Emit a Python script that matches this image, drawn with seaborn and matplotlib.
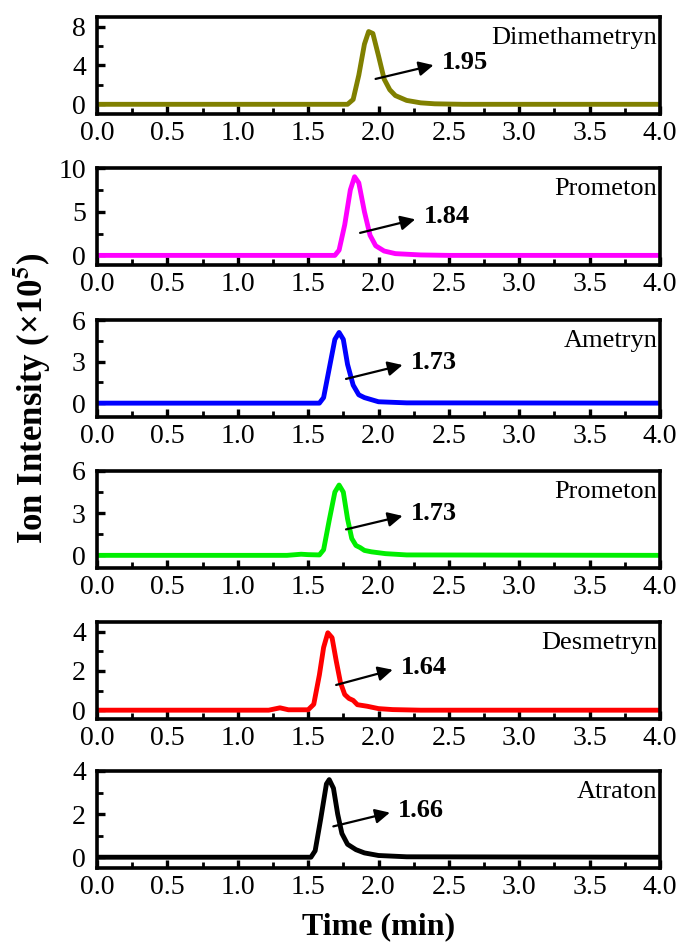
import numpy as np
import pandas as pd
import matplotlib
matplotlib.use("Agg")
import matplotlib.pyplot as plt
import seaborn as sns

# compound names, colours and retention times (top to bottom)
names = ["Dimethametryn", "Prometon", "Ametryn", "Prometon", "Desmetryn", "Atraton"]
colors = ["#808000", "#ff00ff", "#0000ff", "#00ee00", "#ff0000", "#000000"]
rt_labels = ["1.95", "1.84", "1.73", "1.73", "1.64", "1.66"]

# chromatogram points (time in min, intensity x1e5)
t1 = [0.0, 1.0, 1.78, 1.82, 1.86, 1.90, 1.93, 1.96, 2.00, 2.04, 2.08, 2.12, 2.20, 2.30, 2.40, 2.60, 4.0]
y1 = [0.0, 0.0, 0.0, 0.5, 3.0, 6.2, 7.5, 7.3, 5.0, 2.6, 1.5, 0.9, 0.4, 0.15, 0.05, 0.0, 0.0]

t2 = [0.0, 1.0, 1.69, 1.72, 1.76, 1.80, 1.83, 1.86, 1.90, 1.94, 1.98, 2.04, 2.12, 2.30, 2.50, 4.0]
y2 = [0.0, 0.0, 0.0, 0.6, 3.5, 7.5, 9.0, 8.3, 5.0, 2.3, 1.1, 0.5, 0.2, 0.05, 0.0, 0.0]

t3 = [0.0, 1.0, 1.58, 1.61, 1.65, 1.69, 1.72, 1.75, 1.78, 1.82, 1.86, 1.90, 1.95, 2.00, 2.20, 4.0]
y3 = [0.0, 0.0, 0.0, 0.4, 2.5, 4.6, 5.1, 4.6, 2.8, 1.3, 0.6, 0.4, 0.25, 0.1, 0.02, 0.0]

t4 = [0.0, 1.35, 1.45, 1.50, 1.58, 1.61, 1.65, 1.69, 1.72, 1.75, 1.78, 1.81, 1.84, 1.87, 1.90, 1.95, 2.05, 2.20, 4.0]
y4 = [0.0, 0.0, 0.08, 0.05, 0.03, 0.4, 2.5, 4.5, 5.0, 4.5, 2.6, 1.2, 0.7, 0.55, 0.35, 0.25, 0.12, 0.03, 0.0]

t5 = [0.0, 1.22, 1.30, 1.36, 1.50, 1.54, 1.58, 1.61, 1.64, 1.67, 1.70, 1.73, 1.76, 1.79, 1.82, 1.85, 1.92, 2.00, 2.10, 2.30, 4.0]
y5 = [0.0, 0.0, 0.12, 0.02, 0.02, 0.3, 1.8, 3.2, 3.95, 3.7, 2.5, 1.4, 0.8, 0.6, 0.5, 0.28, 0.2, 0.08, 0.03, 0.0, 0.0]

t6 = [0.0, 1.0, 1.52, 1.55, 1.59, 1.63, 1.65, 1.68, 1.71, 1.74, 1.78, 1.84, 1.90, 2.00, 2.20, 4.0]
y6 = [0.0, 0.0, 0.0, 0.3, 1.8, 3.4, 3.6, 3.2, 2.0, 1.1, 0.6, 0.35, 0.2, 0.08, 0.02, 0.0]

times = [t1, t2, t3, t4, t5, t6]
values = [y1, y2, y3, y4, y5, y6]

# axis settings per panel
ylims = [(-1, 9), (-1.1, 10), (-1, 6), (-0.9, 6), (-0.45, 4.5), (-0.5, 4)]
yticks = [[0, 4, 8], [0, 5, 10], [0, 3, 6], [0, 3, 6], [0, 2, 4], [0, 2, 4]]
# arrow tail, arrow head (data coords)
arrow_tail = [(1.96, 2.55), (1.85, 2.5), (1.75, 1.7), (1.75, 1.8), (1.68, 1.25), (1.66, 1.4)]
arrow_head = [(2.41, 4.1), (2.28, 4.2), (2.19, 2.8), (2.19, 2.85), (2.12, 2.1), (2.10, 2.1)]

sns.set_style("ticks")
plt.rcParams["font.family"] = ["Liberation Serif", "DejaVu Serif"]
plt.rcParams["mathtext.fontset"] = "stix"
for k in ["axes.edgecolor", "xtick.color", "ytick.color", "text.color", "axes.labelcolor"]:
    plt.rcParams[k] = "black"

fig = plt.figure(figsize=(6.81, 9.49), dpi=100)
W, H = 681, 949
left, right = 97, 660
tops = [17, 168, 320, 471, 622, 771]
ph = 97

for i in range(6):
    ax = fig.add_axes([left / W, 1 - (tops[i] + ph) / H, (right - left) / W, ph / H])
    df = pd.DataFrame({"time": times[i], "intensity": values[i]})
    sns.lineplot(data=df, x="time", y="intensity", ax=ax, color=colors[i], lw=3.5)
    ax.set_xlim(0, 4)
    ax.set_ylim(*ylims[i])
    ax.set_xticks(np.arange(0, 4.01, 0.5))
    ax.set_xticks(np.arange(0.25, 4, 0.5), minor=True)
    ax.set_xticklabels([f"{v:.1f}" for v in np.arange(0, 4.01, 0.5)])
    yt = yticks[i]
    ax.set_yticks(yt)
    ax.set_yticks([(yt[0] + yt[1]) / 2, (yt[1] + yt[2]) / 2], minor=True)
    ax.set_xlabel("")
    ax.set_ylabel("")
    for s in ax.spines.values():
        s.set_linewidth(2.6)
        s.set_visible(True)
    ax.tick_params(which="major", direction="in", length=6, width=2.4, labelsize=20)
    ax.tick_params(axis="x", which="major", pad=5)
    ax.tick_params(axis="y", which="major", pad=8)
    ax.tick_params(which="minor", direction="in", length=4, width=2)
    ax.text(0.995, 0.78, names[i], transform=ax.transAxes, ha="right", va="center", fontsize=19)
    ax.annotate("", xy=arrow_head[i], xytext=arrow_tail[i],
                arrowprops=dict(arrowstyle="-|>", color="black", lw=1.6, mutation_scale=22))
    ax.text(arrow_head[i][0] + 0.04, arrow_head[i][1] + 0.02 * (ylims[i][1] - ylims[i][0]),
            rt_labels[i], ha="left", va="center", fontsize=19, fontweight="bold")

fig.text(32 / W, 1 - 398 / H, "Ion Intensity (×10$^{\\mathbf{5}}$)", rotation=90,
         ha="center", va="center", fontsize=25, fontweight="bold")
fig.text((left + right) / 2 / W, 1 - 927 / H, "Time (min)", ha="center", va="center",
         fontsize=23, fontweight="bold")

fig.savefig("out.png", dpi=100)
